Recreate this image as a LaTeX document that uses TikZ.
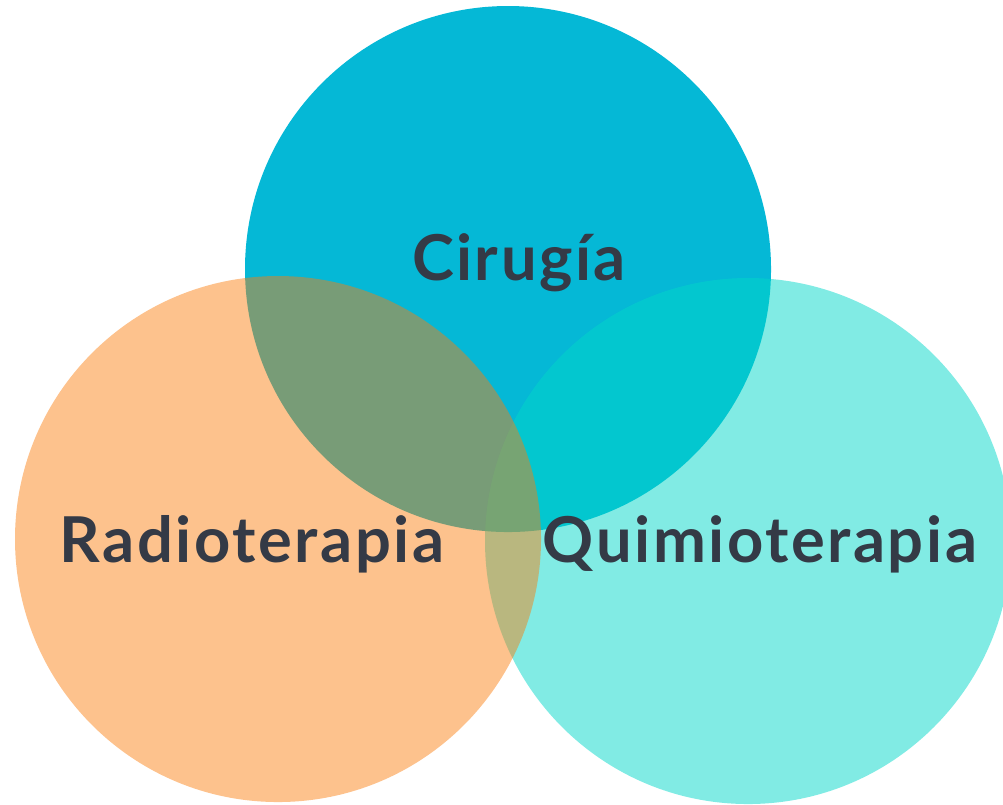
\documentclass[tikz,border=0pt]{standalone}
\usepackage{fontspec}
\setmainfont{Lato}
\newfontfamily\vennfont[LetterSpace=4]{Lato Bold}
\usepackage{tikz}
\definecolor{cblue}{RGB}{5,184,214}
\definecolor{corange}{RGB}{250,125,13}
\definecolor{ccyan}{RGB}{3,215,201}
\definecolor{ctext}{RGB}{52,58,70}
\tikzset{vennlabel/.style={text=ctext, anchor=base, inner sep=0pt, font=\vennfont\fontsize{18}{20}\selectfont}}

\begin{document}
\begin{tikzpicture}
        \useasboundingbox (0,0) rectangle (10.03,-8.04);

        \fill[cblue] (5.08,-2.69) circle (2.63);
        \fill[ccyan, fill opacity=0.5] (7.48,-5.41) circle (2.63);
        \fill[corange, fill opacity=0.47] (2.78,-5.39) circle (2.63);

        \node[vennlabel] (v1) at (5.19,-2.80) {Cirugía};
        \node[vennlabel] (v2) at (2.52,-5.62) {Radioterapia};
        \node[vennlabel] (v3) at (7.60,-5.62) {Quimioterapia};
        \end{tikzpicture}
\end{document}
